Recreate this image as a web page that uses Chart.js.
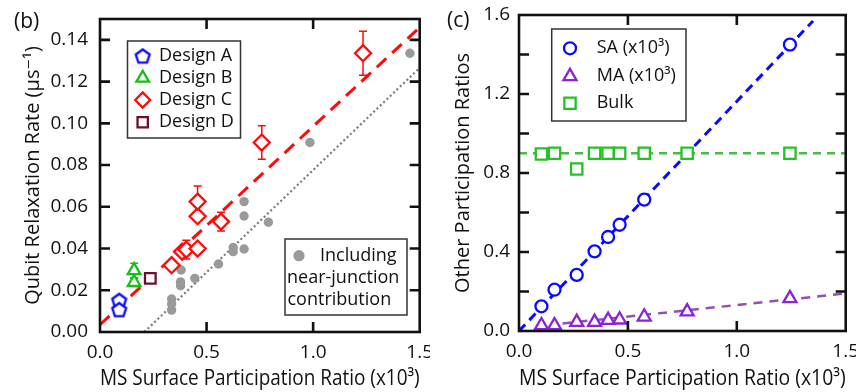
<!DOCTYPE html>
<html>
<head>
<meta charset="utf-8">
<script src="https://cdn.jsdelivr.net/npm/chart.js@4.4.1/dist/chart.umd.min.js"></script>
<style>
  html, body { margin: 0; padding: 0; background: #fff; }
  #wrap { position: relative; width: 856px; height: 392px; overflow: hidden; }
  #chartB { position: absolute; left: 0; top: 0; }
  #chartC { position: absolute; left: 430px; top: 0; }
</style>
</head>
<body>
<div id="wrap">
  <canvas id="chartB" width="430" height="392"></canvas>
  <canvas id="chartC" width="426" height="392"></canvas>
</div>
<script>
// ---- panel (b) data ----
const designAX = [0.09, 0.09];
const designAY = [0.0153, 0.0109];
const designBX = [0.16, 0.16];
const designBY = [0.0295, 0.0238];
const designBErr = [0.0035, 0.002];
const designCX = [0.336, 0.385, 0.405, 0.458, 0.458, 0.458, 0.568, 0.759, 1.234];
const designCY = [0.0320, 0.0385, 0.0395, 0.0400, 0.0555, 0.0625, 0.0529, 0.0908, 0.1336];
const designCErr = [0, 0.002, 0.0045, 0, 0, 0.0075, 0.0045, 0.008, 0.0105];
const designDX = [0.236];
const designDY = [0.0257];
const junctionX = [0.336, 0.336, 0.336, 0.378, 0.378, 0.381, 0.445, 0.556, 0.625, 0.625, 0.676, 0.676, 0.676, 0.790, 0.985, 1.454];
const junctionY = [0.0158, 0.0134, 0.0105, 0.0240, 0.0222, 0.0297, 0.0257, 0.0326, 0.0405, 0.0385, 0.0625, 0.0556, 0.0398, 0.0526, 0.0908, 0.1336];
const fitRedX = [0, 1.5];
const fitRedY = [0.0035, 0.146];
const fitGrayX = [0.208, 1.5];
const fitGrayY = [0, 0.1266];
const xTicks = [0, 0.5, 1.0, 1.5];
const yTicksB = [0, 0.02, 0.04, 0.06, 0.08, 0.10, 0.12, 0.14];

// ---- panel (c) data ----
const msRatio = [0.103, 0.163, 0.265, 0.347, 0.409, 0.462, 0.575, 0.772, 1.244];
const saRatio = [0.125, 0.209, 0.284, 0.403, 0.476, 0.538, 0.665, null, 1.45];
const maRatio = [0.028, 0.028, 0.045, 0.045, 0.055, 0.057, 0.072, 0.098, 0.165];
const bulkRatio = [0.896, 0.90, 0.82, 0.90, 0.90, 0.90, 0.90, 0.90, 0.90];
const fitSAX = [0, 1.35];
const fitSAY = [0, 1.57];
const fitMAX = [0.2, 1.5];
const fitMAY = [0.038, 0.19];
const fitBulkX = [0, 1.5];
const fitBulkY = [0.9, 0.9];
const yTicksC = [0, 0.4, 0.8, 1.2, 1.6];

const FONT = "'Open Sans', 'DejaVu Sans', sans-serif";
const INK = '#111';
const BLUE = '#0a0aff', GREEN = '#14c014', RED = '#ff0a0a', MAROON = '#6a0f2c', GRAY = '#9a9a9a';
const PURPLE = '#8a22d8', GREEN_C = '#22c422';

const pts = (xs, ys) => xs.map((x, i) => ({ x: x, y: ys[i] }));

function pentagon(color, r, lw) {
  const c = document.createElement('canvas');
  const s = Math.ceil(2 * r + lw + 4);
  c.width = c.height = s;
  const g = c.getContext('2d');
  g.strokeStyle = color; g.fillStyle = '#fff'; g.lineWidth = lw;
  g.beginPath();
  for (let k = 0; k < 5; k++) {
    const a = -Math.PI / 2 + k * 2 * Math.PI / 5;
    const px = s / 2 + r * Math.cos(a), py = s / 2 + 1 + r * Math.sin(a);
    if (k) g.lineTo(px, py); else g.moveTo(px, py);
  }
  g.closePath(); g.fill(); g.stroke();
  return c;
}
const pentaBlue = pentagon(BLUE, 7.3, 2.3);

function markers(label, xs, ys, style, color, radius, extra) {
  return Object.assign({
    label: label, data: pts(xs, ys), pointStyle: style, pointRadius: radius,
    borderColor: color, backgroundColor: '#fff', pointBorderWidth: 2.3, showLine: false, order: 0
  }, extra || {});
}
function fitLine(xs, ys, color, width, dash) {
  return {
    data: pts(xs, ys), showLine: true, pointRadius: 0, borderColor: color,
    borderWidth: width, borderDash: dash, order: 10, fill: false
  };
}

// frame + inward ticks, error bars
function framePlugin(xStep, yStep) {
  return {
    id: 'frame',
    beforeDatasetsDraw(chart) {
      const ctx = chart.ctx, ys = chart.scales.y, xs = chart.scales.x;
      ctx.save();
      chart.data.datasets.forEach(ds => {
        if (!ds.errors) return;
        ctx.strokeStyle = ds.borderColor; ctx.lineWidth = 1.5;
        ds.data.forEach((p, i) => {
          const e = ds.errors[i];
          if (!e) return;
          const px = xs.getPixelForValue(p.x);
          const top = ys.getPixelForValue(p.y + e), bot = ys.getPixelForValue(p.y - e);
          ctx.beginPath();
          ctx.moveTo(px, top); ctx.lineTo(px, bot);
          ctx.moveTo(px - 4, top); ctx.lineTo(px + 4, top);
          ctx.moveTo(px - 4, bot); ctx.lineTo(px + 4, bot);
          ctx.stroke();
        });
      });
      ctx.restore();
    },
    afterDraw(chart) {
      const ctx = chart.ctx, a = chart.chartArea, xs = chart.scales.x, ys = chart.scales.y;
      ctx.save();
      ctx.strokeStyle = '#111'; ctx.lineWidth = 2.6;
      ctx.strokeRect(a.left, a.top, a.right - a.left, a.bottom - a.top);
      ctx.beginPath();
      for (let v = xs.min + xStep; v < xs.max - 1e-9; v += xStep) {
        const px = xs.getPixelForValue(v);
        ctx.moveTo(px, a.bottom); ctx.lineTo(px, a.bottom - 10);
        ctx.moveTo(px, a.top); ctx.lineTo(px, a.top + 10);
      }
      for (let v = ys.min + yStep; v < ys.max - 1e-9; v += yStep) {
        const py = ys.getPixelForValue(v);
        ctx.moveTo(a.left, py); ctx.lineTo(a.left + 10, py);
        ctx.moveTo(a.right, py); ctx.lineTo(a.right - 10, py);
      }
      ctx.stroke();
      ctx.restore();
    }
  };
}

function drawMarker(ctx, style, color, r, x, y) {
  if (style instanceof HTMLCanvasElement) {
    ctx.drawImage(style, x - style.width / 2, y - style.height / 2);
    return;
  }
  ctx.save();
  ctx.strokeStyle = color; ctx.fillStyle = color === GRAY ? GRAY : '#fff'; ctx.lineWidth = 2.3;
  Chart.helpers.drawPoint(ctx, { pointStyle: style, radius: r, borderWidth: 2.3 }, x, y);
  ctx.restore();
}

function legendPlugin(box, rows, extras) {
  return {
    id: 'legendBox',
    afterDraw(chart) {
      const ctx = chart.ctx;
      ctx.save();
      ctx.fillStyle = '#fff';
      ctx.fillRect(box.x, box.y, box.w, box.h);
      ctx.strokeStyle = '#333'; ctx.lineWidth = 1.5;
      ctx.strokeRect(box.x, box.y, box.w, box.h);
      rows.forEach(r => {
        drawMarker(ctx, r.style, r.color, r.radius, r.mx, r.y);
        ctx.fillStyle = INK; ctx.font = '18px ' + FONT;
        ctx.textBaseline = 'middle'; ctx.textAlign = 'left';
        ctx.fillText(r.text, r.tx, r.y);
      });
      (extras || []).forEach(t => {
        ctx.fillStyle = INK; ctx.font = t.font; ctx.textBaseline = 'middle'; ctx.textAlign = 'left';
        ctx.fillText(t.text, t.x, t.y);
      });
      ctx.restore();
    }
  };
}

function baseScales(xH, yW, yMax, yTicks, yDec, yTitle, yPad) {
  return {
    x: {
      type: 'linear', min: 0, max: 1.5,
      grid: { display: false, drawTicks: false }, border: { display: false },
      ticks: { padding: 9, color: INK, font: { family: FONT, size: 19 },
               callback: v => Number(v).toFixed(1) },
      afterBuildTicks: s => { s.ticks = xTicks.map(v => ({ value: v })); },
      title: { display: true, text: 'MS Surface Participation Ratio (x10³)', color: INK,
               font: { family: FONT, size: 21 }, padding: { top: 0, bottom: 0 } },
      afterFit: s => { s.height = xH; s.paddingLeft = 0; s.paddingRight = 0; }
    },
    y: {
      type: 'linear', min: 0, max: yMax,
      grid: { display: false, drawTicks: false }, border: { display: false },
      ticks: { padding: yPad, color: INK, font: { family: FONT, size: 19 },
               callback: v => Number(v).toFixed(yDec) },
      afterBuildTicks: s => { s.ticks = yTicks.map(v => ({ value: v })); },
      title: { display: true, text: yTitle, color: INK,
               font: { family: FONT, size: 20 }, padding: { top: 21, bottom: 0 } },
      afterFit: s => { s.width = yW; s.paddingTop = 0; s.paddingBottom = 0; }
    }
  };
}

const common = {
  responsive: false, animation: false,
  plugins: { legend: { display: false }, tooltip: { enabled: false } }
};

// ---- chart (b) ----
new Chart(document.getElementById('chartB').getContext('2d'), {
  type: 'scatter',
  data: {
    datasets: [
      markers('Design A', designAX, designAY, pentaBlue, BLUE, 7.5),
      markers('Design B', designBX, designBY, 'triangle', GREEN, 7.3, { errors: designBErr }),
      markers('Design C', designCX, designCY, 'rectRot', RED, 8, { errors: designCErr }),
      markers('Design D', designDX, designDY, 'rect', MAROON, 7.5),
      markers('Including near-junction contribution', junctionX, junctionY, 'circle', GRAY, 4.7,
              { backgroundColor: GRAY, pointBorderWidth: 0, order: 1 }),
      fitLine(fitRedX, fitRedY, RED, 3, [13, 8]),
      fitLine(fitGrayX, fitGrayY, '#7a7a7a', 2.2, [2, 2.6])
    ]
  },
  options: Object.assign({}, common, {
    layout: { padding: { top: 19, right: 6, bottom: 0, left: 0 } },
    scales: baseScales(60, 100, 0.15, yTicksB, 2, 'Qubit Relaxation Rate (μs⁻¹)', 12)
  }),
  plugins: [
    framePlugin(0.5, 0.02),
    legendPlugin({ x: 127.5, y: 41, w: 113, h: 97 }, [
      { style: pentaBlue, color: BLUE, radius: 7, mx: 142.7, tx: 159, y: 55.7, text: 'Design A' },
      { style: 'triangle', color: GREEN, radius: 7.3, mx: 142.7, tx: 159, y: 78, text: 'Design B' },
      { style: 'rectRot', color: RED, radius: 7.5, mx: 142.7, tx: 159, y: 100, text: 'Design C' },
      { style: 'rect', color: MAROON, radius: 7.3, mx: 142.7, tx: 159, y: 122.3, text: 'Design D' }
    ]),
    legendPlugin({ x: 285, y: 239, w: 122, h: 76 }, [
      { style: 'circle', color: GRAY, radius: 4.5, mx: 299, tx: 320, y: 255.7, text: 'Including' }
    ], [
      { text: 'near-junction', x: 287, y: 278.3, font: '18px ' + FONT },
      { text: 'contribution', x: 287.5, y: 300, font: '18px ' + FONT }
    ]),
    { id: 'panelLabel', afterDraw(chart) {
        const ctx = chart.ctx; ctx.save(); ctx.fillStyle = INK; ctx.font = '21px ' + FONT;
        ctx.textBaseline = 'middle'; ctx.textAlign = 'left'; ctx.fillText('(b)', 14, 22); ctx.restore();
    } }
  ]
});

// ---- chart (c) ----
new Chart(document.getElementById('chartC').getContext('2d'), {
  type: 'scatter',
  data: {
    datasets: [
      markers('Bulk', msRatio, bulkRatio, 'rect', GREEN_C, 8),
      markers('SA (x10³)', msRatio, saRatio, 'circle', BLUE, 6),
      markers('MA (x10³)', msRatio, maRatio, 'triangle', PURPLE, 7.5),
      fitLine(fitSAX, fitSAY, BLUE, 3, [9, 6]),
      fitLine(fitMAX, fitMAY, '#9050b8', 2.5, [9, 7]),
      fitLine(fitBulkX, fitBulkY, '#48bb48', 2.5, [8, 6])
    ]
  },
  options: Object.assign({}, common, {
    layout: { padding: { top: 15, right: 8, bottom: 0, left: 0 } },
    scales: baseScales(61, 89, 1.6, yTicksC, 1, 'Other Participation Ratios', 9)
  }),
  plugins: [
    framePlugin(0.5, 0.2),
    legendPlugin({ x: 121.7, y: 29, w: 134.3, h: 92 }, [
      { style: 'circle', color: BLUE, radius: 6, mx: 140, tx: 166.7, y: 48.3, text: 'SA (x10³)' },
      { style: 'triangle', color: PURPLE, radius: 7.5, mx: 140, tx: 166.7, y: 76.3, text: 'MA (x10³)' },
      { style: 'rect', color: GREEN_C, radius: 8, mx: 140, tx: 166.7, y: 103.3, text: 'Bulk' }
    ]),
    { id: 'panelLabel', afterDraw(chart) {
        const ctx = chart.ctx; ctx.save(); ctx.fillStyle = INK; ctx.font = '21px ' + FONT;
        ctx.textBaseline = 'middle'; ctx.textAlign = 'left'; ctx.fillText('(c)', 17, 21); ctx.restore();
    } }
  ]
});
</script>
</body>
</html>
